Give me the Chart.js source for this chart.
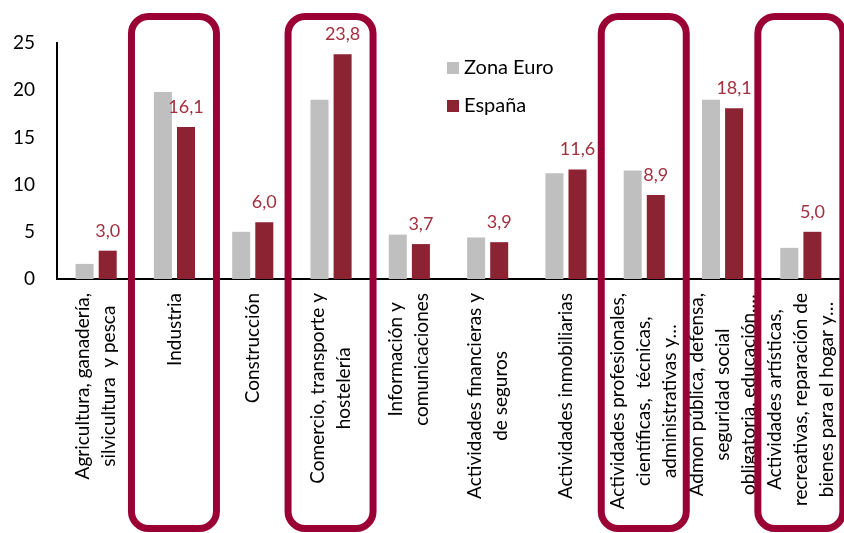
<!DOCTYPE html>
<html lang="es">
<head>
<meta charset="utf-8">
<script src="https://cdn.jsdelivr.net/npm/chart.js@4.4.1/dist/chart.umd.min.js"></script>
<style>html,body{margin:0;padding:0;background:#fff}</style>
</head>
<body>
<canvas id="grafico" width="844" height="533"></canvas>
<script>
// ================== Datos ==================
const SECTORES = [
  ["Agricultura, ganadería,", "silvicultura  y pesca"],
  ["Industria"],
  ["Construcción"],
  ["Comercio, transporte y", "hostelería"],
  ["Información y", "comunicaciones"],
  ["Actividades financieras y", "de seguros"],
  ["Actividades inmobiliarias"],
  ["Actividades profesionales,", "científicas,  técnicas,", "administrativas y…"],
  ["Admon pública, defensa,", "seguridad social", "obligatoria, educación,…"],
  ["Actividades artísticas,", "recreativas, reparación de", "bienes para el hogar y…"]
];
const ZONA_EURO = [1.6, 19.8, 5.0, 19.0, 4.7, 4.4, 11.2, 11.5, 19.0, 3.3];
const ESPANA    = [3.0, 16.1, 6.0, 23.8, 3.7, 3.9, 11.6, 8.9, 18.1, 5.0];
const Y_TICKS   = [0, 5, 10, 15, 20, 25];
const DESTACADOS = [1, 3, 7, 9]; // sectores enmarcados

// ================== Estilo ==================
const FUENTE = "Lato, 'Open Sans', sans-serif";
const GRIS = "#BFBFBF";
const GRANATE = "#8C2332";
const ETIQUETA = "#A3303F";
const MARCO = "#9B0035";

const fmt = v => v.toFixed(1).replace(".", ",");

// Etiquetas del eje X (rotadas, líneas centradas entre sí)
const etiquetasX = {
  id: "etiquetasX",
  afterDraw(chart) {
    const { ctx, scales: { x } } = chart;
    ctx.save();
    ctx.font = "19px " + FUENTE;
    ctx.fillStyle = "#000";
    ctx.textAlign = "center";
    ctx.textBaseline = "middle";
    const lineH = 26;
    SECTORES.forEach((lineas, i) => {
      const cx = x.getPixelForValue(i);
      const maxW = Math.max(...lineas.map(l => ctx.measureText(l).width));
      ctx.save();
      ctx.translate(cx, 293);
      ctx.rotate(-Math.PI / 2);
      lineas.forEach((l, j) => {
        ctx.fillText(l, -maxW / 2, (j - (lineas.length - 1) / 2) * lineH);
      });
      ctx.restore();
    });
    ctx.restore();
  }
};

// Valores de España sobre las barras
const valores = {
  id: "valores",
  afterDatasetsDraw(chart) {
    const { ctx } = chart;
    const meta = chart.getDatasetMeta(1);
    ctx.save();
    ctx.font = "18px " + FUENTE;
    ctx.fillStyle = ETIQUETA;
    ctx.textAlign = "center";
    ctx.textBaseline = "alphabetic";
    meta.data.forEach((bar, i) => {
      ctx.fillText(fmt(ESPANA[i]), bar.x, bar.y - 14);
    });
    ctx.restore();
  }
};

// Leyenda dentro del gráfico
const leyenda = {
  id: "leyenda",
  afterDraw(chart) {
    const { ctx } = chart;
    ctx.save();
    ctx.font = "20px " + FUENTE;
    ctx.textBaseline = "middle";
    chart.data.datasets.forEach((ds, i) => {
      const y = 68 + i * 38;
      ctx.fillStyle = ds.backgroundColor;
      ctx.fillRect(447, y - 6, 12, 12);
      ctx.fillStyle = "#000";
      ctx.fillText(ds.label, 464, y);
    });
    ctx.restore();
  }
};

// Marcos redondeados sobre los sectores destacados
const marcos = {
  id: "marcos",
  afterDraw(chart) {
    const { ctx, scales: { x } } = chart;
    ctx.save();
    ctx.strokeStyle = MARCO;
    ctx.lineWidth = 7;
    DESTACADOS.forEach(i => {
      const cx = x.getPixelForValue(i);
      const l = cx - 43, r = cx + 42, t = 16.5, b = 528.5, rad = 17;
      ctx.beginPath();
      ctx.moveTo(l + rad, t);
      ctx.lineTo(r - rad, t);
      ctx.arcTo(r, t, r, t + rad, rad);
      ctx.lineTo(r, b - rad);
      ctx.arcTo(r, b, r - rad, b, rad);
      ctx.lineTo(l + rad, b);
      ctx.arcTo(l, b, l, b - rad, rad);
      ctx.lineTo(l, t + rad);
      ctx.arcTo(l, t, l + rad, t, rad);
      ctx.closePath();
      ctx.stroke();
    });
    ctx.restore();
  }
};

const chart = new Chart(document.getElementById("grafico"), {
  type: "bar",
  data: {
    labels: SECTORES,
    datasets: [
      { label: "Zona Euro", data: ZONA_EURO, backgroundColor: GRIS },
      { label: "España", data: ESPANA, backgroundColor: GRANATE }
    ]
  },
  options: {
    responsive: false,
    animation: false,
    layout: { padding: { top: 43, right: 4, left: 0, bottom: 0 } },
    datasets: { bar: { categoryPercentage: 0.59, barPercentage: 0.78 } },
    plugins: { legend: { display: false }, tooltip: { enabled: false } },
    scales: {
      x: {
        grid: { display: false, drawTicks: false },
        border: { color: "#000", width: 2 },
        ticks: { display: false },
        afterFit: s => { s.height = 254; }
      },
      y: {
        min: 0, max: 25,
        afterBuildTicks: s => { s.ticks = Y_TICKS.map(v => ({ value: v })); },
        grid: { display: false, drawTicks: false },
        border: { color: "#000", width: 2 },
        ticks: { color: "#000", padding: 22, font: { family: FUENTE, size: 19 } },
        afterFit: s => { s.width = 57; }
      }
    }
  },
  plugins: [etiquetasX, valores, leyenda, marcos]
});
</script>
</body>
</html>
